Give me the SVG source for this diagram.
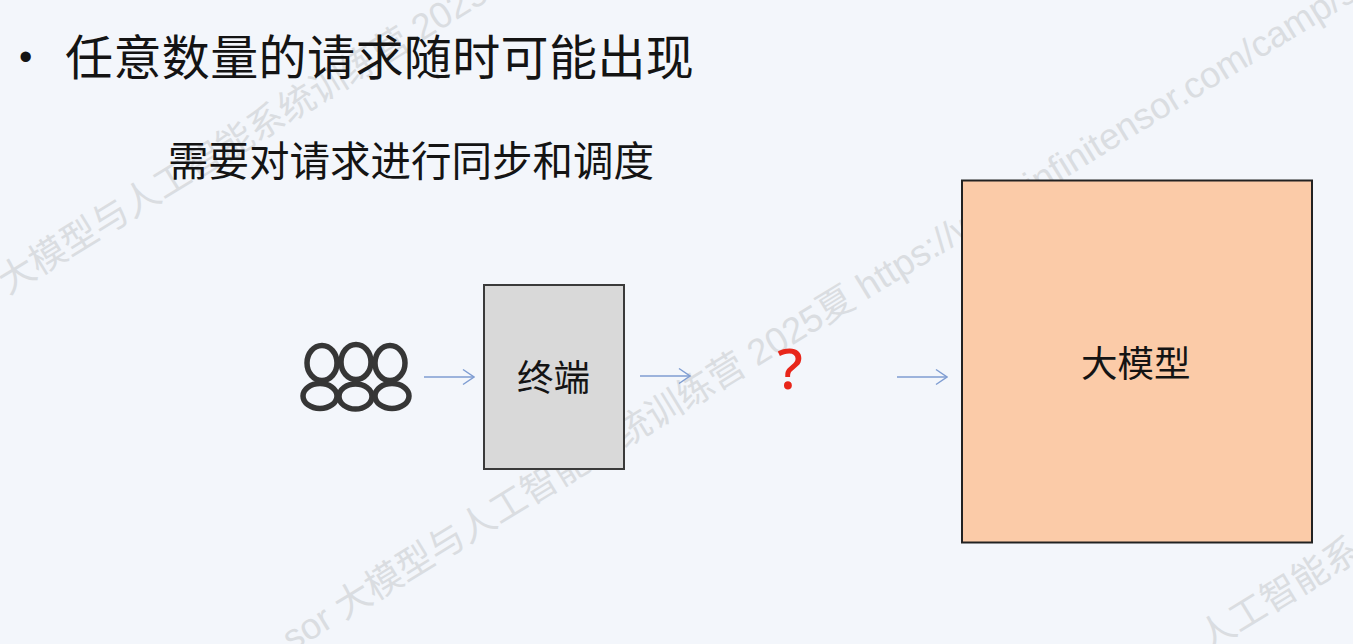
<svg xmlns="http://www.w3.org/2000/svg" width="1353" height="644" viewBox="0 0 1353 644">
<style>
text{font-family:"Noto Sans CJK SC","Liberation Sans",sans-serif;fill:#141414}
.wm{font-size:36.500px;fill:#dadde1;font-family:"Liberation Sans","Noto Sans CJK SC",sans-serif}
.box{stroke-width:2}
.conn{fill:none;stroke:#7f9dd2;stroke-width:1.5;marker-end:url(#arrow)}
.person{fill:none;stroke:#363636;stroke-width:5.500}
</style>
<defs>
<marker id="arrow" markerUnits="userSpaceOnUse" markerWidth="14" markerHeight="18" refX="13" refY="9" orient="auto">
<path d="M2 1.500L13 9L2 16.500" fill="none" stroke="#7f9dd2" stroke-width="1.500"/>
</marker>
</defs>
<rect width="1353" height="644" fill="#f3f6fb"/>
<g id="watermark">
<text class="wm" transform="translate(8 295) rotate(-31.5)">大模型与人工智能系统训练营 2025</text>
<text class="wm" transform="translate(292 652) rotate(-31.5)">sor 大模型与人工智能系统训练营 2025夏 https://www.infinitensor.com/camp/s</text>
<text class="wm" transform="translate(1208 652) rotate(-31.5)">人工智能系</text>
</g>
<g id="title">
<text x="19" y="70" font-size="38" style="font-family:'Liberation Sans',sans-serif">•</text>
<text x="65" y="75" font-size="48" letter-spacing="0.400">任意数量的请求随时可能出现</text>
</g>
<g id="subtitle"><text x="168" y="176" font-size="40.500">需要对请求进行同步和调度</text></g>
<g id="users">
<ellipse class="person" cx="322" cy="363" rx="15" ry="17.500"/>
<ellipse class="person" cx="356" cy="362" rx="15" ry="17.500"/>
<ellipse class="person" cx="390" cy="363" rx="15" ry="17.500"/>
<ellipse class="person" cx="320" cy="396" rx="17" ry="12.500"/>
<ellipse class="person" cx="355.500" cy="396.500" rx="16.500" ry="12.500"/>
<ellipse class="person" cx="392" cy="396" rx="17" ry="12.500"/>
</g>
<g id="terminal">
<rect class="box" x="484" y="285" width="140" height="184" fill="#d9d9d9" stroke="#3a3a3a"/>
<text x="517" y="391" font-size="36.500">终端</text>
</g>
<g id="question"><text x="790" y="389" font-size="57" font-weight="500" text-anchor="middle" style="fill:#e8261a;font-family:'Noto Sans',sans-serif">?</text></g>
<g id="model">
<rect class="box" x="962" y="180.500" width="350" height="362" fill="#fbcba8" stroke="#222"/>
<text x="1081" y="377" font-size="36.500">大模型</text>
</g>
<g id="connectors">
<path class="conn" d="M424 377H474"/>
<path class="conn" d="M640 376H690"/>
<path class="conn" d="M897 377H947"/>
</g>
</svg>
